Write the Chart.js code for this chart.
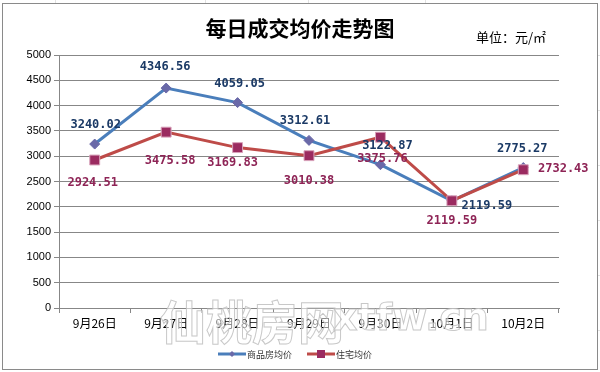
<!DOCTYPE html>
<html>
<head>
<meta charset="utf-8">
<script src="https://cdn.jsdelivr.net/npm/chart.js@4"></script>
<style>
  html, body { margin: 0; padding: 0; background: #fff; }
  #wrap { width: 600px; height: 372px; position: relative; }
</style>
</head>
<body>
<div id="wrap"><canvas id="myChart" width="600" height="372"></canvas></div>
<script>
const categories = ['9月26日', '9月27日', '9月28日', '9月29日', '9月30日', '10月1日', '10月2日'];
const seriesNames = ['商品房均价', '住宅均价'];
const commercialAvg = [3240.02, 4346.56, 4059.05, 3312.61, 2832, 2119.59, 2775.27];
const residentialAvg = [2924.51, 3475.58, 3169.83, 3010.38, 3375.76, 2119.59, 2732.43];
const commercialText = ['3240.02', '4346.56', '4059.05', '3312.61', '3122.87', '2119.59', '2775.27'];
const residentialText = ['2924.51', '3475.58', '3169.83', '3010.38', '3375.76', '2119.59', '2732.43'];
const yMin = 0, yMax = 5000, yStep = 500;

// where each data label sits relative to its point (dx, dy)
const commercialOffsets = [[1, -19], [-1, -21], [2, -19], [-4, -20], [7, -19], [35, 5], [-1, -19]];
const residentialOffsets = [[-2, 23], [4, 29], [-5, 15], [0, 25], [2, 22], [0, 20], [40, -1]];

const BLUE = '#4A7EBB', BLUE_MARK = '#6A69A8', BLUE_TEXT = '#1B3A66';
const RED = '#BE4B48', RED_MARK = '#9B2B60', RED_TEXT = '#8E2456';
const GRID = '#878787';

const frame = {
  id: 'frame',
  beforeDraw(chart) {
    const c = chart.ctx;
    c.save();
    c.fillStyle = '#fff';
    c.fillRect(0, 0, 600, 372);
    c.strokeStyle = '#e2e2e2';
    c.lineWidth = 1;
    [55, 205, 308, 425].forEach(x => { c.beginPath(); c.moveTo(x + 0.5, 0); c.lineTo(x + 0.5, 3); c.stroke(); });
    [55, 110, 165, 220, 275, 330].forEach(y => { c.beginPath(); c.moveTo(598, y + 0.5); c.lineTo(600, y + 0.5); c.stroke(); });
    c.strokeStyle = '#8a8a8a';
    c.strokeRect(2.5, 3.5, 595, 366);
    c.restore();
  },
  afterDraw(chart) {
    const c = chart.ctx;
    c.save();
    c.fillStyle = '#000';
    c.textAlign = 'center';
    c.textBaseline = 'middle';
    c.font = 'bold 21px "Noto Sans CJK SC"';
    c.fillText('每日成交均价走势图', 300, 28);
    c.font = '13px "Noto Sans CJK SC"';
    c.textAlign = 'left';
    c.fillText('单位：元/㎡', 476, 37);

    // watermark
    c.lineWidth = 1;
    c.strokeStyle = 'rgba(190,190,190,0.85)';
    c.fillStyle = 'rgba(255,255,255,0.55)';
    c.font = 'bold 46px "Noto Sans CJK SC"';
    c.textAlign = 'left';
    c.fillText('仙桃房网', 160, 322);
    c.strokeText('仙桃房网', 160, 322);
    c.font = 'bold 38px "DejaVu Sans"';
    c.fillText('xtfw.cn', 333, 320);
    c.strokeText('xtfw.cn', 333, 320);

    // legend
    const ly = 354;
    const items = [
      {x: 218, name: seriesNames[0], line: BLUE, mark: BLUE_MARK, shape: 'diamond'},
      {x: 307, name: seriesNames[1], line: RED, mark: RED_MARK, shape: 'square'}
    ];
    items.forEach(it => {
      c.strokeStyle = it.line;
      c.lineWidth = 3;
      c.beginPath(); c.moveTo(it.x, ly); c.lineTo(it.x + 28, ly); c.stroke();
      c.fillStyle = it.mark;
      if (it.shape === 'diamond') {
        c.beginPath();
        c.moveTo(it.x + 14, ly - 3); c.lineTo(it.x + 17, ly); c.lineTo(it.x + 14, ly + 3); c.lineTo(it.x + 11, ly);
        c.closePath(); c.fill();
      } else {
        c.fillRect(it.x + 10, ly - 4, 8, 8);
      }
      c.fillStyle = '#333';
      c.font = '9px "Noto Sans CJK SC"';
      c.textAlign = 'left';
      c.fillText(it.name, it.x + 29, ly + 1);
    });
    c.restore();
  }
};

const pointLabels = {
  id: 'pointLabels',
  afterDatasetsDraw(chart) {
    const c = chart.ctx;
    c.save();
    c.font = 'bold 12px "DejaVu Sans Mono"';
    c.textAlign = 'center';
    c.textBaseline = 'middle';
    const sets = [
      {meta: chart.getDatasetMeta(0), text: commercialText, off: commercialOffsets, color: BLUE_TEXT},
      {meta: chart.getDatasetMeta(1), text: residentialText, off: residentialOffsets, color: RED_TEXT}
    ];
    sets.forEach(s => {
      c.fillStyle = s.color;
      s.meta.data.forEach((pt, i) => {
        c.fillText(s.text[i], pt.x + s.off[i][0], pt.y + s.off[i][1]);
      });
    });
    c.restore();
  }
};

const ctx = document.getElementById('myChart');

new Chart(ctx, {
  type: 'line',
  data: {
    labels: categories,
    datasets: [{
      label: seriesNames[0],
      data: commercialAvg,
      borderColor: BLUE,
      borderWidth: 3,
      pointStyle: 'rectRot',
      pointRadius: 5,
      pointBackgroundColor: BLUE_MARK,
      pointBorderColor: BLUE_MARK,
      pointBorderWidth: 1,
      tension: 0,
      order: 1
    }, {
      label: seriesNames[1],
      data: residentialAvg,
      borderColor: RED,
      borderWidth: 3,
      pointStyle: 'rect',
      pointRadius: 7,
      pointBackgroundColor: RED_MARK,
      pointBorderColor: '#D9A3BB',
      pointBorderWidth: 1,
      tension: 0,
      order: 0
    }]
  },
  options: {
    responsive: false,
    animation: false,
    events: [],
    layout: { padding: { top: 55, right: 41, left: 0, bottom: 0 } },
    plugins: {
      legend: { display: false },
      title: { display: false },
      tooltip: { enabled: false }
    },
    scales: {
      x: {
        offset: true,
        grid: { offset: true, drawOnChartArea: false, drawTicks: true, tickLength: 5, color: GRID },
        border: { color: GRID },
        ticks: { color: '#000', font: { family: '"Noto Sans CJK SC"', size: 12 }, padding: 3, maxRotation: 0 },
        afterFit: s => { s.height = 64; }
      },
      y: {
        min: yMin,
        max: yMax,
        grid: { color: GRID, tickLength: 5 },
        border: { color: GRID },
        ticks: {
          stepSize: yStep,
          color: '#000',
          font: { family: '"Liberation Sans", Arial', size: 11 },
          padding: 3,
          callback: v => String(v)
        },
        afterFit: s => { s.width = 59; }
      }
    }
  },
  plugins: [frame, pointLabels]
});
</script>
</body>
</html>
